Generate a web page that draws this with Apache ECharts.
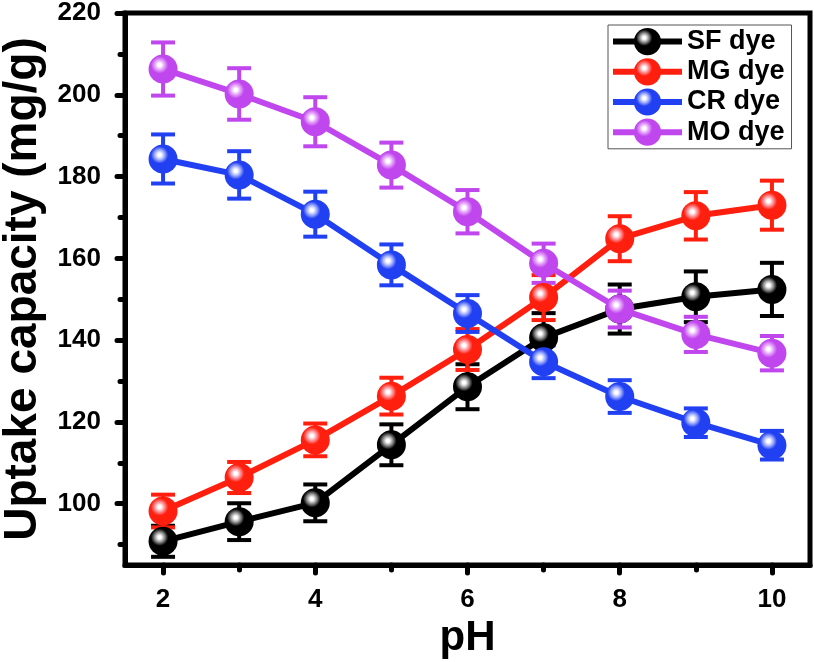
<!DOCTYPE html>
<html><head><meta charset="utf-8">
<script src="https://cdn.jsdelivr.net/npm/echarts@6/dist/echarts.min.js"></script>
<style>html,body{margin:0;padding:0;background:#fff}#c{width:814px;height:662px}</style>
</head><body><div id="c"></div>
<script>
const pH = [2, 3, 4, 5, 6, 7, 8, 9, 10];
const sfDye = [90.8, 95.6, 100.2, 114.4, 128.6, 140.6, 147.6, 150.6, 152.4];
const sfErr = [3.8, 4.5, 4.5, 5.0, 5.5, 6.0, 6.0, 6.2, 6.5];
const mgDye = [98.2, 106.4, 115.6, 126.3, 137.7, 150.4, 164.8, 170.4, 173.0];
const mgErr = [4.0, 3.8, 4.0, 4.5, 5.0, 5.5, 5.5, 5.8, 6.0];
const crDye = [184.3, 180.4, 170.8, 158.4, 146.5, 134.7, 126.2, 119.8, 114.3];
const crErr = [6.0, 5.8, 5.5, 5.0, 4.5, 4.0, 4.0, 3.5, 3.5];
const moDye = [206.3, 200.2, 193.4, 182.8, 171.4, 158.8, 147.6, 141.4, 136.8];
const moErr = [6.5, 6.3, 6.0, 5.5, 5.3, 4.8, 4.5, 4.3, 4.2];
const seriesNames = ['SF dye', 'MG dye', 'CR dye', 'MO dye'];
const xMajor = [2, 4, 6, 8, 10];
const xMinor = [3, 5, 7, 9];
const yMajor = [100, 120, 140, 160, 180, 200, 220];
const yMinor = [90, 110, 130, 150, 170, 190, 210];

const colors = ['#000000', '#ff1f0f', '#2140f2', '#c046ee'];
const lights = ['#9a9a9a', '#ff9aa0', '#a8b4ff', '#e6a8fa'];
const values = [sfDye, mgDye, crDye, moDye];
const errs = [sfErr, mgErr, crErr, moErr];
const FONT = '"Liberation Sans", Arial, sans-serif';

function grad(i) {
  return new echarts.graphic.RadialGradient(0.38, 0.36, 0.62, [
    {offset: 0, color: '#ffffff'},
    {offset: 0.09, color: '#ffffff'},
    {offset: 0.26, color: lights[i]},
    {offset: 0.48, color: colors[i]},
    {offset: 1, color: colors[i]}
  ]);
}

const chart = echarts.init(document.getElementById('c'));
const series = [];
values.forEach((vals, i) => {
  series.push({
    type: 'custom',
    name: seriesNames[i] + ' err',
    xAxisIndex: 0, yAxisIndex: 0,
    z: 2,
    data: pH.map((x, k) => [x, vals[k] - errs[i][k], vals[k] + errs[i][k]]),
    renderItem: function (params, api) {
      const x = api.value(0);
      const lo = api.coord([x, api.value(1)]);
      const hi = api.coord([x, api.value(2)]);
      const w = 12;
      const st = {stroke: colors[i], lineWidth: 4};
      return {type: 'group', children: [
        {type: 'line', shape: {x1: lo[0], y1: lo[1], x2: hi[0], y2: hi[1]}, style: st},
        {type: 'line', shape: {x1: lo[0] - w, y1: lo[1], x2: lo[0] + w, y2: lo[1]}, style: st},
        {type: 'line', shape: {x1: hi[0] - w, y1: hi[1], x2: hi[0] + w, y2: hi[1]}, style: st}
      ]};
    },
    silent: true
  });
});
values.forEach((vals, i) => {
  series.push({
    type: 'line',
    name: seriesNames[i],
    z: 3 + i,
    data: pH.map((x, k) => [x, vals[k]]),
    symbol: 'circle',
    symbolSize: 29,
    showAllSymbol: true,
    lineStyle: {color: colors[i], width: 6},
    itemStyle: {color: grad(i), borderWidth: 0},
    emphasis: {disabled: true},
    animation: false
  });
});

const tickStyle = {color: '#000', width: 5, cap: 'round'};
chart.setOption({
  animation: false,
  grid: {left: 125, right: 4, top: 13, bottom: 97, show: true, borderColor: '#000', borderWidth: 5,
         containLabel: false, outerBoundsMode: 'none'},
  legend: {
    data: seriesNames,
    left: 608, top: 25,
    orient: 'vertical',
    itemWidth: 69, itemHeight: 34, itemGap: 3,
    padding: [3, 7, 3, 2],
    borderColor: '#555', borderWidth: 1,
    lineStyle: {width: 6},
    textStyle: {fontFamily: FONT, fontWeight: 'bold', fontSize: 27, color: '#000'},
    selectedMode: false
  },
  xAxis: [{
    type: 'value', min: 1.5, max: 10.5,
    name: 'pH', nameLocation: 'middle', nameGap: 48,
    nameTextStyle: {fontFamily: FONT, fontWeight: 'bold', fontSize: 42, color: '#000'},
    axisLine: {show: true, lineStyle: {color: '#000', width: 5}},
    axisTick: {show: true, length: 8, lineStyle: tickStyle, customValues: xMajor},
    axisLabel: {customValues: xMajor, margin: 22, fontFamily: FONT, fontWeight: 'bold', fontSize: 26, color: '#000'},
    splitLine: {show: false}
  }, {
    type: 'value', min: 1.5, max: 10.5, position: 'bottom',
    axisLine: {show: false},
    axisTick: {show: true, length: 5, lineStyle: tickStyle, customValues: xMinor},
    axisLabel: {show: false},
    splitLine: {show: false}
  }],
  yAxis: [{
    type: 'value', min: 85, max: 220,
    name: 'Uptake capacity (mg/g)', nameLocation: 'middle', nameGap: 68,
    nameTextStyle: {fontFamily: FONT, fontWeight: 'bold', fontSize: 46, color: '#000'},
    axisLine: {show: true, lineStyle: {color: '#000', width: 5}},
    axisTick: {show: true, length: 8, lineStyle: tickStyle, customValues: yMajor},
    axisLabel: {customValues: yMajor, margin: 24, fontFamily: FONT, fontWeight: 'bold', fontSize: 26, color: '#000'},
    splitLine: {show: false}
  }, {
    type: 'value', min: 85, max: 220, position: 'left',
    axisLine: {show: false},
    axisTick: {show: true, length: 5, lineStyle: tickStyle, customValues: yMinor},
    axisLabel: {show: false},
    splitLine: {show: false}
  }],
  series: series
});
</script>
</body></html>
